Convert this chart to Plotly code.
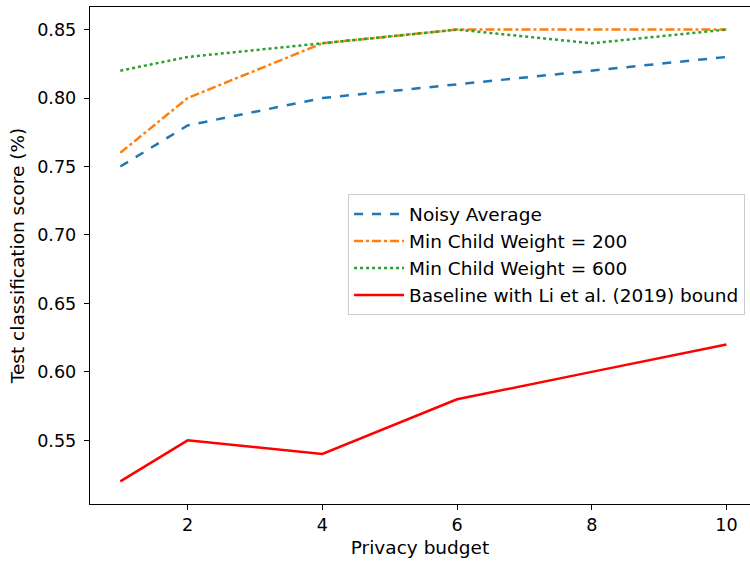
import plotly.graph_objects as go

budget = [1, 2, 4, 6, 8, 10]
noisy_average = [0.75, 0.78, 0.80, 0.81, 0.82, 0.83]
mcw_200 = [0.76, 0.80, 0.84, 0.85, 0.85, 0.85]
mcw_600 = [0.82, 0.83, 0.84, 0.85, 0.84, 0.85]
baseline = [0.52, 0.55, 0.54, 0.58, 0.60, 0.62]

series = [
    ("Noisy Average", noisy_average, "#1f77b4", "dash"),
    ("Min Child Weight = 200", mcw_200, "#ff7f0e", "dashdot"),
    ("Min Child Weight = 600", mcw_600, "#2ca02c", "dot"),
    ("Baseline with Li et al. (2019) bound", baseline, "#ff0000", "solid"),
]

fig = go.Figure()
for name, vals, color, dash in series:
    fig.add_trace(go.Scatter(x=budget, y=vals, mode="lines", name=name,
                             line=dict(color=color, dash=dash, width=2.5)))

tick_font = dict(family="DejaVu Sans", size=17.6, color="black")
title_font = dict(family="DejaVu Sans", size=18.5, color="black")
fig.update_layout(
    width=750, height=561,
    margin=dict(l=90, r=0, t=7, b=57),
    paper_bgcolor="white", plot_bgcolor="white",
    font=tick_font,
    legend=dict(x=0.391, y=0.623, xanchor="left", yanchor="top",
                bordercolor="#cccccc", borderwidth=1, bgcolor="white",
                itemwidth=50, font=title_font, tracegroupgap=0),
    xaxis=dict(range=[0.55, 10.35], tickvals=[2, 4, 6, 8, 10],
               showgrid=False, zeroline=False, showline=True, linecolor="black",
               linewidth=1.3, mirror=True, ticks="outside", ticklen=5, tickcolor="black",
               tickfont=tick_font,
               title=dict(text="Privacy budget", standoff=6, font=title_font)),
    yaxis=dict(range=[0.5035, 0.8665], tickvals=[0.55, 0.60, 0.65, 0.70, 0.75, 0.80, 0.85],
               tickformat=".2f", showgrid=False, zeroline=False, showline=True,
               linecolor="black", linewidth=1.3, ticks="outside", ticklen=5,
               tickcolor="black", tickfont=tick_font, ticklabelstandoff=4,
               title=dict(text="Test classification score (%)", standoff=7, font=title_font)),
)

fig.write_html("out.html", config={"displayModeBar": False},
               post_script="document.body.style.margin='0';")
